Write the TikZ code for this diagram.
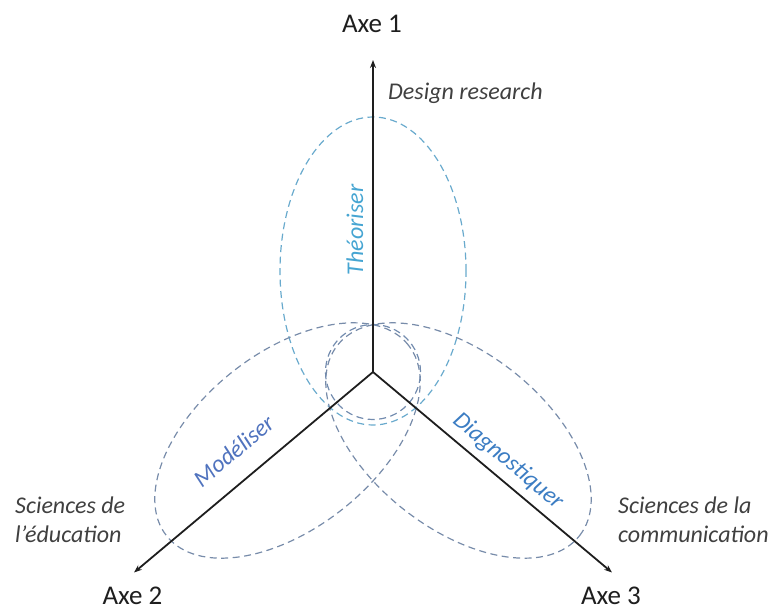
\documentclass[tikz,border=0pt]{standalone}
\usepackage{fontspec}
\setmainfont{Carlito}
\usetikzlibrary{arrows.meta}
\definecolor{axiscol}{RGB}{30,30,30}
\definecolor{fieldcol}{RGB}{64,64,64}
\definecolor{topell}{RGB}{105,170,205}
\definecolor{sideell}{RGB}{120,140,170}
\definecolor{circcol}{RGB}{115,140,175}
\definecolor{theocol}{RGB}{70,165,210}
\definecolor{modcol}{RGB}{80,115,190}
\definecolor{diagcol}{RGB}{60,125,195}
\begin{document}
\begin{tikzpicture}[x=1pt,y=1pt,
  axisline/.style={line width=1.8pt, draw=axiscol, -{Stealth[length=8pt,width=6pt]}},
  dashell/.style={dash pattern=on 7pt off 4.5pt, line width=1.2pt},
  axelabel/.style={font=\fontsize{27}{30}\selectfont, text=axiscol, inner sep=0pt},
  fieldlabel/.style={font=\fontsize{24}{29}\selectfont\itshape, text=fieldcol, inner sep=0pt},
  verblabel/.style={font=\fontsize{24}{29}\selectfont\itshape, inner sep=0pt}]
\useasboundingbox (0,0) rectangle (779,606);
% centre and axis ends
\coordinate (O) at (373,234);
\coordinate (E1) at (373,546);
\coordinate (E2) at (134,33.5);
\coordinate (E3) at (612,33.5);
% ellipses
\draw[dashell, draw=topell] (373,335) ellipse [x radius=93pt, y radius=154pt];
\draw[dashell, draw=sideell, rotate around={38.2:(287.5,165.5)}] (287.5,165.5) ellipse [x radius=154pt, y radius=88pt];
\draw[dashell, draw=sideell, rotate around={-38.2:(458.5,165.5)}] (458.5,165.5) ellipse [x radius=154pt, y radius=88pt];
\draw[dashell, draw=circcol] (373,234) circle [radius=47.5pt];
% axes
\draw[axisline] (O) -- (E1);
\draw[axisline] (O) -- (E2);
\draw[axisline] (O) -- (E3);
% axis labels
\node[axelabel, anchor=base] (ax1) at (372,573) {Axe 1};
\node[axelabel, anchor=base] (ax2) at (132.5,2) {Axe 2};
\node[axelabel, anchor=base] (ax3) at (611,2) {Axe 3};
% field labels
\node[fieldlabel, anchor=base west] (dr) at (388,506) {Design research};
\node[fieldlabel, anchor=base west] (se1) at (15,93) {Sciences de};
\node[fieldlabel, anchor=base west] (se2) at (15,64) {l'éducation};
\node[fieldlabel, anchor=base west] (sc1) at (618,93) {Sciences de la};
\node[fieldlabel, anchor=base west] (sc2) at (618,64) {communication};
% verbs
\node[verblabel, text=theocol, rotate=90, anchor=base] (theo) at (363,376) {Théoriser};
\node[verblabel, text=modcol, rotate=40, anchor=base] (mod) at (239,149) {Modéliser};
\node[verblabel, text=diagcol, rotate=-40, anchor=base] (diag) at (504,140) {Diagnostiquer};
\end{tikzpicture}
\end{document}
